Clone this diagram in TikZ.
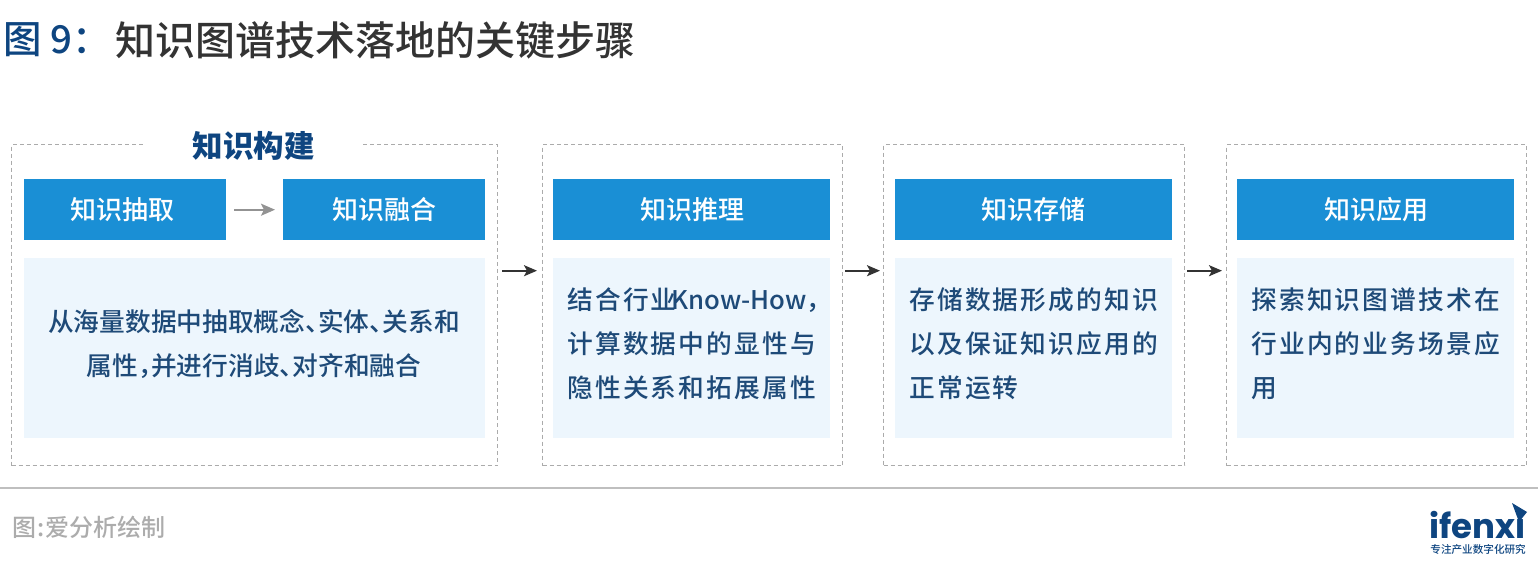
\documentclass[tikz,border=0pt]{standalone}
\usepackage{fontspec}
\setmainfont{Noto Sans CJK SC Medium}
\newfontfamily\spaced[LetterSpace=8.6]{Noto Sans CJK SC Medium}
\newfontfamily\plainlatin{Noto Sans CJK SC Medium}
\newfontfamily\logofont{Poppins}
\usetikzlibrary{arrows.meta}
\definecolor{hdr}{HTML}{1A8FD5}
\definecolor{pale}{HTML}{EDF6FD}
\definecolor{navy}{HTML}{0E4580}
\definecolor{bodyc}{HTML}{1E4A78}
\definecolor{ink}{HTML}{333333}
\definecolor{dashc}{HTML}{ABABAB}
\tikzset{
  x=1pt,y=-1pt,
  groupbox/.style={draw=dashc,line width=1.4pt,dash pattern=on 4pt off 3pt,inner sep=0pt,minimum height=321pt,anchor=north west},
  headbox/.style={fill=hdr,text=white,font=\fontsize{26}{26}\selectfont,inner sep=0pt,minimum height=61pt,anchor=north west},
  panelbox/.style={fill=pale,inner sep=0pt,minimum height=180pt,anchor=north west},
  bodytxt/.style={text=bodyc,font=\fontsize{25.7}{44}\selectfont,inner sep=0pt},
  bodyspaced/.style={bodytxt,align=left,anchor=west,font=\spaced\fontsize{25.7}{44}\selectfont},
  flow/.style={-{Stealth[length=13pt,width=11pt,inset=3pt]},line width=2pt,color=ink},
  flowlight/.style={-{Stealth[length=14pt,width=12pt,inset=3pt]},line width=2pt,color=gray!85},
}
\begin{document}
\begin{tikzpicture}
\useasboundingbox (0,0) rectangle (1538,578);
\node[inner sep=0pt,anchor=west,font=\fontsize{38.5}{38.5}\selectfont,text=navy] (fig) at (3,40) {图 9：};
\node[inner sep=0pt,anchor=west,font=\fontsize{40}{40}\selectfont,text=ink] (title) at (115,40) {知识图谱技术落地的关键步骤};
% groups
\node[groupbox,minimum width=486pt] (g1) at (11,144) {};
\node[groupbox,minimum width=300pt] (g2) at (542,144) {};
\node[groupbox,minimum width=301pt] (g3) at (883,144) {};
\node[groupbox,minimum width=300pt] (g4) at (1226,144) {};
\node[fill=white,inner sep=0pt,minimum width=214pt,minimum height=34pt,text=navy,font=\bfseries\fontsize{30.5}{30.5}\selectfont] (gt) at (252.5,146) {\kern2pt知识构建};
% headers
\node[headbox,minimum width=202pt] (h1) at (24,179) {知识抽取\kern6pt};
\node[headbox,minimum width=202pt] (h2) at (283,179) {知识融合};
\node[headbox,minimum width=277pt] (h3) at (553,179) {\kern1pt知识推理};
\node[headbox,minimum width=277pt] (h4) at (895,179) {知识存储};
\node[headbox,minimum width=277pt] (h5) at (1237,179) {\kern1pt知识应用};
% panels
\node[panelbox,minimum width=461pt] (p1) at (24,258) {};
\node[panelbox,minimum width=277pt] (p2) at (553,258) {};
\node[panelbox,minimum width=277pt] (p3) at (895,258) {};
\node[panelbox,minimum width=277pt] (p4) at (1237,258) {};
\node[bodytxt,align=center] (t1) at (254,344) {从海量数据中抽取概念、\kern-12.7pt实体、\kern-12.7pt关系和\\属性，\kern-12.7pt并进行消歧、\kern-12.7pt对齐和融合};
\node[bodyspaced] (t2) at (567,344) {结合行业{\plainlatin\kern-5pt Know-How，}\\计算数据中的显性与\\隐性关系和拓展属性};
\node[bodyspaced] (t3) at (909,344) {存储数据形成的知识\\以及保证知识应用的\\正常运转};
\node[bodyspaced] (t4) at (1251,344) {探索知识图谱技术在\\行业内的业务场景应\\用};
% connectors
\draw[flowlight,shorten <=8pt,shorten >=8pt] (h1.east) -- (h2.west);
\draw[flow,shorten <=4pt,shorten >=5pt] ([yshift=34.5pt]g1.east) -- ([yshift=34.5pt]g2.west);
\draw[flow,shorten <=2pt,shorten >=3pt] ([yshift=34.5pt]g2.east) -- ([yshift=34.5pt]g3.west);
\draw[flow,shorten <=2pt,shorten >=4pt] ([yshift=34.5pt]g3.east) -- ([yshift=34.5pt]g4.west);
% footer
\coordinate (fl) at (0,488);
\coordinate (fr) at (1538,488);
\draw[line width=1.2pt,color=gray!50] (fl) -- (fr);
\node[inner sep=0pt,anchor=west,text=gray!65,font=\fontsize{24}{24}\selectfont] (src) at (12,527) {图\kern1pt:\kern1pt爱分析绘制};
% logo
\node[inner sep=0pt,anchor=east,text=navy,font=\logofont\bfseries\fontsize{34}{34}\selectfont] (logo) at (1526,525) {ifenxi};
\fill[navy] (1512,503) -- (1527,512) -- (1519,522) -- cycle;
\node[inner sep=0pt,anchor=east,text=navy,font=\fontsize{10.6}{10.6}\selectfont] (slogan) at (1526,549) {专注产业数字化研究};
\end{tikzpicture}
\end{document}
